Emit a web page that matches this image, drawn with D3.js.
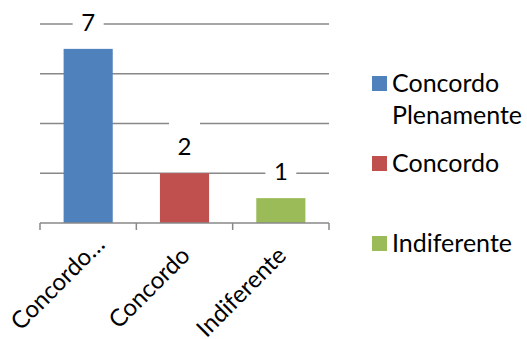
<!DOCTYPE html>
<html>
<head>
<meta charset="utf-8">
<script src="https://cdn.jsdelivr.net/npm/d3@7"></script>
<style>
  body { margin: 0; background: #fff; }
  text { font-family: Lato, "Liberation Sans", Arial, sans-serif; fill: #000; }
</style>
</head>
<body>
<div id="chart"></div>
<script>
// Data
var categories = ['Concordo Plenamente', 'Concordo', 'Indiferente'];
var tickLabels = ['Concordo…', 'Concordo', 'Indiferente'];
var values = [7, 2, 1];
var colors = ['#4F81BD', '#C0504D', '#9BBB59'];
var yTicks = [0, 2, 4, 6, 8];

var width = 527, height = 339;
var fontSize = 24;

var svg = d3.select('#chart').append('svg')
    .attr('width', width)
    .attr('height', height);

// scales
var x = d3.scaleBand()
    .domain(categories)
    .range([40, 329])
    .paddingInner(0)
    .paddingOuter(0);

var y = d3.scaleLinear()
    .domain([0, 8])
    .range([223, 24]);

var barW = x.bandwidth() * 0.51;

// gridlines
svg.append('g')
  .selectAll('line')
  .data(yTicks.slice(1))
  .enter().append('line')
    .attr('x1', 40).attr('x2', 329)
    .attr('y1', function(d) { return y(d); })
    .attr('y2', function(d) { return y(d); })
    .style('stroke', '#888')
    .style('stroke-width', 1.5);

// bars
svg.append('g')
  .selectAll('rect')
  .data(values)
  .enter().append('rect')
    .attr('x', function(d, i) { return x(categories[i]) + (x.bandwidth() - barW) / 2; })
    .attr('y', function(d) { return y(d); })
    .attr('width', barW)
    .attr('height', function(d) { return y(0) - y(d); })
    .style('fill', function(d, i) { return colors[i]; });

// x axis: baseline plus ticks on category edges
var gx = svg.append('g')
    .attr('transform', 'translate(0,' + y(0) + ')');
gx.append('line')
    .attr('x1', 40).attr('x2', 329)
    .style('stroke', '#888')
    .style('stroke-width', 1.5);
var edges = d3.range(categories.length + 1).map(function(i) { return x.range()[0] + i * x.step(); });
gx.selectAll('.edge')
  .data(edges)
  .enter().append('line')
    .attr('x1', function(d) { return d; }).attr('x2', function(d) { return d; })
    .attr('y1', 0).attr('y2', 7)
    .style('stroke', '#888')
    .style('stroke-width', 1.5);

// rotated category labels (truncated one sits a bit further along)
svg.append('g')
  .selectAll('text')
  .data(tickLabels)
  .enter().append('text')
    .attr('transform', function(d, i) {
        var cx = x(categories[i]) + x.bandwidth() / 2;
        var shift = d.slice(-1) === '…' ? 11 : 0;
        return 'translate(' + (cx + 7 + shift) + ',' + (257 - shift) + ')rotate(-45)';
    })
    .attr('text-anchor', 'end')
    .style('font-size', fontSize + 'px')
    .text(function(d) { return d; });

// data labels with white boxes
var lab = svg.append('g')
  .selectAll('g')
  .data(values)
  .enter().append('g')
    .attr('transform', function(d, i) {
        var cx = x(categories[i]) + x.bandwidth() / 2;
        return 'translate(' + cx + ',' + (y(d) - 18) + ')';
    });
lab.append('rect')
    .attr('x', -15.5).attr('y', -35)
    .attr('width', 31).attr('height', 39)
    .style('fill', '#fff');
lab.append('text')
    .attr('text-anchor', 'middle')
    .style('font-size', fontSize + 'px')
    .text(function(d) { return d; });

// legend
var legendY = [76, 156, 236];
var legend = svg.append('g')
  .selectAll('g')
  .data(categories)
  .enter().append('g')
    .attr('transform', function(d, i) { return 'translate(372,' + legendY[i] + ')'; });
legend.append('rect')
    .attr('width', 15).attr('height', 15)
    .style('fill', function(d, i) { return colors[i]; });
legend.append('text')
    .style('font-size', '25px')
    .each(function(d) {
        var words = d.split(' ');
        var t = d3.select(this);
        words.forEach(function(w, j) {
            t.append('tspan').attr('x', 20).attr('y', 16 + j * 32).text(w);
        });
    });
</script>
</body>
</html>
